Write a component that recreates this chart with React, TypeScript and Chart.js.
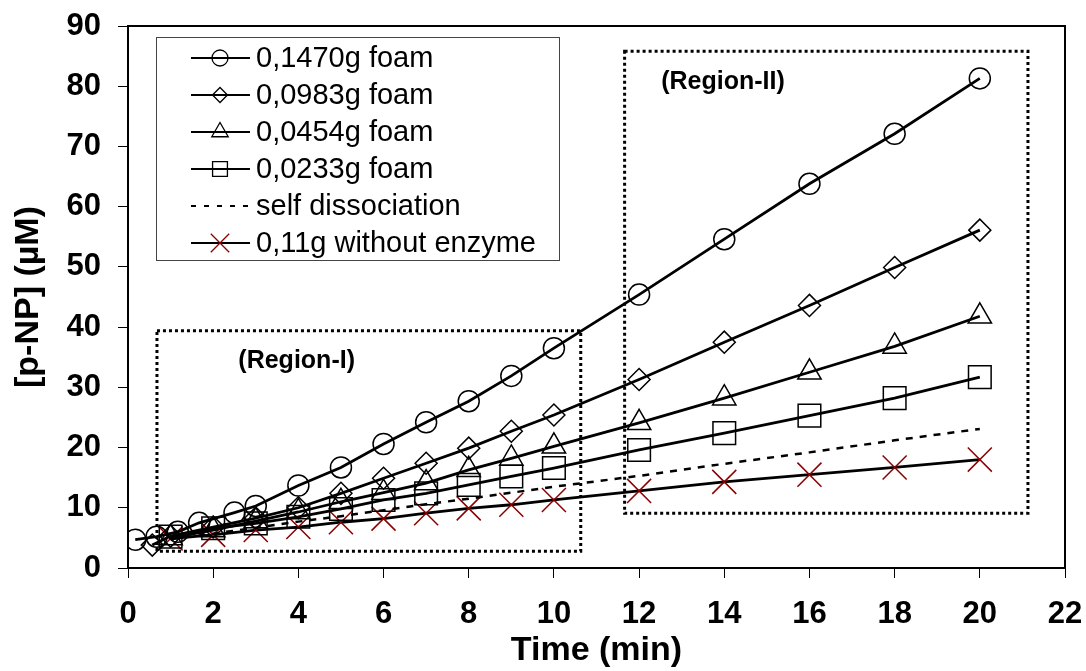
import React, { useEffect, useRef } from "react";
import { Chart, registerables } from "chart.js";

Chart.register(...registerables);

// ---- Data ----
const timeFoam1470 = [0.17, 0.67, 1.17, 1.67, 2.5, 3, 4, 5, 6, 7, 8, 9, 10, 12, 14, 16, 18, 20];
const foam1470 = [4.7, 5.2, 6.0, 7.5, 9.2, 10.3, 13.7, 16.7, 20.6, 24.2, 27.7, 31.9, 36.5, 45.4, 54.6, 63.8, 72.1, 81.3];

const timeFoam0983 = [0.57, 1, 2, 3, 4, 5, 6, 7, 8, 9, 10, 12, 14, 16, 18, 20];
const foam0983 = [3.8, 5.3, 6.8, 8.3, 10.0, 12.4, 14.9, 17.4, 19.9, 22.7, 25.4, 31.3, 37.5, 43.6, 49.9, 56.1];

const timeFoam0454 = [1, 2, 3, 4, 5, 6, 7, 8, 9, 10, 12, 14, 16, 18, 20];
const foam0454 = [5.0, 6.3, 7.8, 9.3, 11.0, 12.5, 14.1, 16.3, 18.2, 20.2, 24.1, 28.2, 32.5, 36.8, 41.8];

const timeFoam0233 = [1, 2, 3, 4, 5, 6, 7, 8, 9, 10, 12, 14, 16, 18, 20];
const foam0233 = [5.2, 6.6, 7.4, 8.5, 9.8, 11.3, 12.4, 13.8, 15.2, 16.6, 19.6, 22.4, 25.3, 28.2, 31.7];

const timeSelf = [1, 2, 3, 4, 5, 6, 7, 8, 9, 10, 12, 14, 16, 18, 20];
const selfDissociation = [4.8, 5.7, 6.7, 7.7, 8.6, 9.6, 10.6, 11.5, 12.5, 13.5, 15.3, 17.3, 19.2, 21.2, 23.1];

const timeNoEnzyme = [1, 2, 3, 4, 5, 6, 7, 8, 9, 10, 12, 14, 16, 18, 20];
const noEnzyme = [4.9, 5.5, 6.3, 6.8, 7.6, 8.2, 9.1, 9.9, 10.5, 11.3, 12.8, 14.3, 15.5, 16.7, 18.0];

const seriesLabels = [
  "0,1470g foam",
  "0,0983g foam",
  "0,0454g foam",
  "0,0233g foam",
  "self dissociation",
  "0,11g without enzyme",
];

const xTickValues = [0, 2, 4, 6, 8, 10, 12, 14, 16, 18, 20, 22];
const yTickValues = [0, 10, 20, 30, 40, 50, 60, 70, 80, 90];

// Region annotations (data coordinates)
const regionNames = ["(Region-I)", "(Region-II)"];
const regionXMin = [0.68, 11.66];
const regionXMax = [10.63, 21.13];
const regionYMin = [2.8, 9.1];
const regionYMax = [39.4, 85.8];
const regionLabelX = [3.96, 13.97];
const regionLabelY = [34.3, 80.6];

const FONT = "'Liberation Sans', Arial, Helvetica, sans-serif";

function pts(xs: number[], ys: number[]) {
  return xs.map((x, i) => ({ x, y: ys[i] }));
}

function drawMarker(ctx: CanvasRenderingContext2D, style: string, x: number, y: number, r: number) {
  ctx.beginPath();
  if (style === "circle") {
    ctx.arc(x, y, r, 0, Math.PI * 2);
  } else if (style === "rectRot") {
    ctx.moveTo(x - r, y);
    ctx.lineTo(x, y - r);
    ctx.lineTo(x + r, y);
    ctx.lineTo(x, y + r);
    ctx.closePath();
  } else if (style === "triangle") {
    let rad = 0;
    ctx.moveTo(x + Math.sin(rad) * r, y - Math.cos(rad) * r);
    rad += (2 * Math.PI) / 3;
    ctx.lineTo(x + Math.sin(rad) * r, y - Math.cos(rad) * r);
    rad += (2 * Math.PI) / 3;
    ctx.lineTo(x + Math.sin(rad) * r, y - Math.cos(rad) * r);
    ctx.closePath();
  } else if (style === "rect") {
    const s = Math.SQRT1_2 * r;
    ctx.rect(x - s, y - s, 2 * s, 2 * s);
  } else if (style === "crossRot") {
    const o = Math.SQRT1_2 * r;
    ctx.moveTo(x - o, y - o);
    ctx.lineTo(x + o, y + o);
    ctx.moveTo(x + o, y - o);
    ctx.lineTo(x - o, y + o);
  }
  ctx.stroke();
}

const legendMarkerRadius: Record<string, number> = {
  circle: 8,
  rectRot: 7.5,
  triangle: 9.5,
  rect: 10.5,
  crossRot: 13,
};

const framePlugin = {
  id: "frameAndAnnotations",
  beforeDatasetsDraw(chart: any) {
    const { ctx, scales } = chart;
    const xs = scales.x;
    const ys = scales.y;
    ctx.save();
    // dotted region boxes
    ctx.strokeStyle = "#000";
    ctx.lineWidth = 3;
    ctx.setLineDash([3, 3]);
    for (let i = 0; i < regionNames.length; i++) {
      const x1 = xs.getPixelForValue(regionXMin[i]);
      const x2 = xs.getPixelForValue(regionXMax[i]);
      const y1 = ys.getPixelForValue(regionYMax[i]);
      const y2 = ys.getPixelForValue(regionYMin[i]);
      ctx.strokeRect(x1, y1, x2 - x1, y2 - y1);
    }
    ctx.setLineDash([]);
    ctx.fillStyle = "#000";
    ctx.font = `bold 25px ${FONT}`;
    ctx.textAlign = "center";
    ctx.textBaseline = "middle";
    for (let i = 0; i < regionNames.length; i++) {
      ctx.fillText(regionNames[i], xs.getPixelForValue(regionLabelX[i]), ys.getPixelForValue(regionLabelY[i]));
    }
    ctx.restore();
  },
  afterDatasetsDraw(chart: any) {
    const { ctx, chartArea: a } = chart;
    ctx.save();
    // legend box
    const x0 = a.left + 28;
    const y0 = a.top + 11;
    const w = 403;
    const h = 223;
    ctx.fillStyle = "#fff";
    ctx.fillRect(x0, y0, w, h);
    ctx.strokeStyle = "#444";
    ctx.lineWidth = 1;
    ctx.strokeRect(x0 + 0.5, y0 + 0.5, w, h);
    chart.data.datasets.forEach((ds: any, i: number) => {
      const cy = y0 + 21 + i * 37;
      ctx.beginPath();
      ctx.strokeStyle = "#000";
      ctx.lineWidth = 2;
      ctx.setLineDash(ds.borderDash && ds.borderDash.length ? [5, 8] : []);
      ctx.moveTo(x0 + 35, cy);
      ctx.lineTo(x0 + 94, cy);
      ctx.stroke();
      ctx.setLineDash([]);
      if (ds.pointRadius > 0) {
        ctx.strokeStyle = ds.pointBorderColor;
        ctx.lineWidth = 1.3;
        drawMarker(ctx, ds.pointStyle, x0 + 64, cy, legendMarkerRadius[ds.pointStyle] || 8);
      }
      ctx.fillStyle = "#000";
      ctx.font = `29px ${FONT}`;
      ctx.textAlign = "left";
      ctx.textBaseline = "middle";
      ctx.fillText(ds.label, x0 + 100, cy + 1);
    });
    // frame
    ctx.strokeStyle = "#000";
    ctx.lineWidth = 2;
    ctx.strokeRect(a.left, a.top, a.right - a.left, a.bottom - a.top);
    ctx.restore();
  },
};

function makeDataset(label: string, data: any[], style: string, radius: number, extra: any = {}) {
  return {
    label,
    data,
    showLine: true,
    borderColor: "#000",
    borderWidth: 2.8,
    tension: 0,
    fill: false,
    pointStyle: style,
    pointRadius: radius,
    pointHoverRadius: radius,
    pointBorderWidth: 1.5,
    pointBorderColor: "#000",
    pointBackgroundColor: "rgba(0,0,0,0)",
    ...extra,
  };
}

export default function App() {
  const ref = useRef<HTMLCanvasElement | null>(null);

  useEffect(() => {
    if (!ref.current) return;
    const chart = new Chart(ref.current, {
      type: "scatter",
      data: {
        datasets: [
          makeDataset(seriesLabels[0], pts(timeFoam1470, foam1470), "circle", 10.5),
          makeDataset(seriesLabels[1], pts(timeFoam0983, foam0983), "rectRot", 11),
          makeDataset(seriesLabels[2], pts(timeFoam0454, foam0454), "triangle", 13.5),
          makeDataset(seriesLabels[3], pts(timeFoam0233, foam0233), "rect", 16),
          makeDataset(seriesLabels[4], pts(timeSelf, selfDissociation), "circle", 0, {
            borderDash: [7, 7],
            borderWidth: 2.5,
            pointRadius: 0,
            pointHoverRadius: 0,
          }),
          makeDataset(seriesLabels[5], pts(timeNoEnzyme, noEnzyme), "crossRot", 17, {
            pointBorderColor: "#8b0000",
            pointBorderWidth: 1.5,
          }),
        ] as any,
      },
      options: {
        responsive: false,
        animation: false,
        devicePixelRatio: 1,
        layout: { padding: { top: 26, right: 21, left: 0, bottom: 0 } },
        plugins: {
          legend: { display: false },
          tooltip: { enabled: false },
        },
        scales: {
          x: {
            type: "linear",
            min: 0,
            max: 22,
            afterBuildTicks: (scale: any) => {
              scale.ticks = xTickValues.map((v) => ({ value: v }));
            },
            afterFit: (scale: any) => {
              scale.height = 103;
              scale.paddingLeft = 0;
              scale.paddingRight = 0;
            },
            ticks: {
              color: "#000",
              font: { family: FONT, size: 31, weight: "bold" },
              padding: 18,
              maxRotation: 0,
              autoSkip: false,
            },
            grid: {
              drawOnChartArea: false,
              drawTicks: true,
              tickLength: 10,
              color: "#000",
              lineWidth: 1,
            },
            border: { display: false },
            title: {
              display: true,
              text: "Time (min)",
              color: "#000",
              font: { family: FONT, size: 34, weight: "bold" },
              padding: { top: 0, bottom: 0 },
            },
          },
          y: {
            type: "linear",
            min: 0,
            max: 90,
            afterBuildTicks: (scale: any) => {
              scale.ticks = yTickValues.map((v) => ({ value: v }));
            },
            afterFit: (scale: any) => {
              scale.width = 128;
              scale.paddingTop = 0;
              scale.paddingBottom = 0;
            },
            ticks: {
              color: "#000",
              font: { family: FONT, size: 31, weight: "bold" },
              padding: 17,
              autoSkip: false,
            },
            grid: {
              drawOnChartArea: false,
              drawTicks: true,
              tickLength: 10,
              color: "#000",
              lineWidth: 1,
            },
            border: { display: false },
            title: {
              display: true,
              text: "[p-NP] (µM)",
              color: "#000",
              font: { family: FONT, size: 34, weight: "bold" },
              padding: { top: 8, bottom: 0 },
            },
          },
        },
      } as any,
      plugins: [framePlugin],
    });
    return () => chart.destroy();
  }, []);

  return (
    <div style={{ position: "fixed", left: 0, top: 0, width: 1086, height: 671, background: "#fff" }}>
      <canvas ref={ref} width={1086} height={671} style={{ display: "block", width: 1086, height: 671 }} />
    </div>
  );
}
